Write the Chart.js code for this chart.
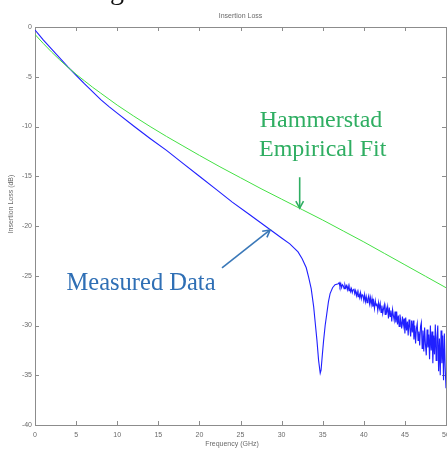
<!DOCTYPE html>
<html><head><meta charset="utf-8">
<script src="https://cdn.jsdelivr.net/npm/chart.js@4/dist/chart.umd.min.js"></script>
<style>html,body{margin:0;padding:0;background:#fff;overflow:hidden}#wrap{width:447px;height:451px}</style>
</head><body><div id="wrap"><canvas id="c" width="447" height="451"></canvas></div>
<script>
const xTicks = [0,5,10,15,20,25,30,35,40,45,50];
const yTicks = [0,-5,-10,-15,-20,-25,-30,-35,-40];

const fitFreq = [0,1,2,3,4,5,6,7,8,9,10,12,14,16,18,20,22.5,25,27.5,30,32.5,35,37.5,40,42.5,45,47.5,50];
const fitLoss = [-0.75,-1.65,-2.5,-3.3,-4.05,-4.75,-5.4,-6.05,-6.65,-7.25,-7.85,-8.95,-10.0,-11.0,-11.95,-12.9,-14.05,-15.15,-16.25,-17.3,-18.35,-19.4,-20.5,-21.6,-22.75,-23.9,-25.05,-26.2];

const measFreqSmooth = [0,0.5,1,2,3,4,5,6,7,8,9,10,12,14,16,18,20,22,24,26,28,29,30,31,32,32.5,33,33.3,33.6,33.9,34.1,34.3,34.5,34.7,34.8,34.95,35.1,35.3,35.5,35.7,35.9,36.2,36.5,36.9];
const measLossSmooth = [-0.3,-0.8,-1.3,-2.2,-3.1,-4.0,-4.85,-5.7,-6.5,-7.3,-8.0,-8.65,-9.95,-11.2,-12.4,-13.7,-15.0,-16.3,-17.6,-18.8,-20.0,-20.6,-21.2,-21.8,-22.6,-23.3,-24.2,-25.2,-26.3,-28.1,-29.8,-31.5,-33.5,-34.8,-34.5,-33.0,-31.6,-30.0,-28.8,-27.6,-26.8,-26.2,-25.9,-25.8];

// noisy tail, 37.0 .. 50.0 GHz in 0.1 GHz steps
const measFreqNoisy = [37.0,37.1,37.2,37.3,37.4,37.5,37.6,37.7,37.8,37.9,
38.0,38.1,38.2,38.3,38.4,38.5,38.6,38.7,38.8,38.9,
39.0,39.1,39.2,39.3,39.4,39.5,39.6,39.7,39.8,39.9,
40.0,40.1,40.2,40.3,40.4,40.5,40.6,40.7,40.8,40.9,
41.0,41.1,41.2,41.3,41.4,41.5,41.6,41.7,41.8,41.9,
42.0,42.1,42.2,42.3,42.4,42.5,42.6,42.7,42.8,42.9,
43.0,43.1,43.2,43.3,43.4,43.5,43.6,43.7,43.8,43.9,
44.0,44.1,44.2,44.3,44.4,44.5,44.6,44.7,44.8,44.9,
45.0,45.1,45.2,45.3,45.4,45.5,45.6,45.7,45.8,45.9,
46.0,46.1,46.2,46.3,46.4,46.5,46.6,46.7,46.8,46.9,
47.0,47.1,47.2,47.3,47.4,47.5,47.6,47.7,47.8,47.9,
48.0,48.1,48.2,48.3,48.4,48.5,48.6,48.7,48.8,48.9,
49.0,49.1,49.2,49.3,49.4,49.5,49.6,49.7,49.8,49.9,50.0];
const measLossNoisy = [-25.7,-26.1,-25.8,-26.2,-25.9,-26.0,-26.3,-25.9,-26.2,-26.0,
-26.4,-26.0,-26.5,-26.2,-26.6,-26.3,-26.7,-26.4,-26.3,-26.8,
-26.5,-27.0,-26.6,-27.1,-26.8,-27.2,-26.7,-27.3,-26.9,-27.0,
-27.5,-26.9,-27.6,-27.1,-27.7,-27.3,-27.0,-27.8,-27.2,-27.9,
-27.3,-28.1,-27.6,-28.3,-27.5,-28.0,-27.8,-28.5,-27.7,-28.3,
-27.8,-28.7,-28.0,-28.8,-28.3,-27.9,-28.9,-28.2,-28.6,-28.1,
-29.3,-28.2,-29.1,-28.5,-29.6,-28.4,-29.0,-29.5,-28.6,-29.7,
-28.6,-29.9,-29.0,-30.1,-28.9,-29.6,-30.3,-29.1,-30.0,-29.3,
-30.8,-29.2,-30.5,-29.6,-31.0,-29.4,-30.2,-31.1,-29.5,-30.7,
-29.5,-31.4,-30.0,-31.8,-30.3,-29.8,-31.5,-30.6,-32.0,-30.1,
-29.7,-32.3,-30.5,-32.6,-30.2,-31.9,-33.0,-30.4,-32.2,-30.9,
-33.4,-30.0,-32.5,-30.6,-33.8,-31.0,-32.9,-29.9,-33.5,-31.2,
-30.0,-34.6,-31.3,-35.0,-30.5,-33.8,-31.0,-35.5,-30.8,-34.2,-36.3];

const measFreq = measFreqSmooth.concat(measFreqNoisy);
const measLoss = measLossSmooth.concat(measLossNoisy);

const toPts = (xs, ys) => xs.map((v, i) => ({x: v, y: ys[i]}));

const axisGray = '#8c8c8c';
const labelGray = '#6a6a6a';

const framePlugin = {
  id: 'frame',
  beforeDatasetsDraw(chart) {
    const {ctx, chartArea: a, scales: {x, y}} = chart;
    ctx.save();
    ctx.strokeStyle = axisGray; ctx.lineWidth = 1;
    ctx.strokeRect(Math.round(a.left) + 0.5, Math.round(a.top) + 0.5, Math.round(a.right - a.left), Math.round(a.bottom - a.top));
    ctx.beginPath();
    xTicks.forEach(v => {
      const px = Math.round(x.getPixelForValue(v)) + 0.5;
      ctx.moveTo(px, a.top); ctx.lineTo(px, a.top + 4);
      ctx.moveTo(px, a.bottom); ctx.lineTo(px, a.bottom - 4);
    });
    yTicks.forEach(v => {
      const py = Math.round(y.getPixelForValue(v)) + 0.5;
      ctx.moveTo(a.left, py); ctx.lineTo(a.left + 4, py);
      ctx.moveTo(a.right, py); ctx.lineTo(a.right - 4, py);
    });
    ctx.stroke();
    ctx.restore();
  },
  afterDraw(chart) {
    const {ctx, chartArea: a, scales: {x, y}} = chart;
    ctx.save();
    ctx.fillStyle = labelGray;
    ctx.font = '7px "Liberation Sans", sans-serif';
    ctx.textAlign = 'center'; ctx.textBaseline = 'middle';
    ctx.fillText('Insertion Loss', (a.left + a.right) / 2, 16);
    ctx.fillText('Frequency (GHz)', 232, 444);
    ctx.save();
    ctx.translate(11, 204); ctx.rotate(-Math.PI / 2);
    ctx.fillText('Insertion Loss (dB)', 0, 0);
    ctx.restore();
    ctx.fillStyle = '#111';
    ctx.font = '28px "Liberation Serif", serif';
    ctx.textAlign = 'left'; ctx.textBaseline = 'alphabetic';
    ctx.fillText('g', 110, -1);
    const X = v => x.getPixelForValue(v), Y = v => y.getPixelForValue(v);
    ctx.font = '24px "Liberation Serif", serif';
    ctx.textAlign = 'center';
    ctx.fillStyle = '#2fae62';
    ctx.fillText('Hammerstad', X(34.8), Y(-10.0));
    ctx.fillText('Empirical Fit', X(35.0), Y(-12.95));
    const arrow = (x0, y0, x1, y1, col) => {
      ctx.strokeStyle = col; ctx.lineWidth = 1.6;
      ctx.beginPath(); ctx.moveTo(x0, y0); ctx.lineTo(x1, y1); ctx.stroke();
      const ang = Math.atan2(y1 - y0, x1 - x0), L = 8, w = 0.5;
      ctx.beginPath();
      ctx.moveTo(x1 - L * Math.cos(ang - w), y1 - L * Math.sin(ang - w));
      ctx.lineTo(x1, y1);
      ctx.lineTo(x1 - L * Math.cos(ang + w), y1 - L * Math.sin(ang + w));
      ctx.stroke();
    };
    arrow(X(32.2), Y(-15.1), X(32.2), Y(-18.2), '#2fae62');
    ctx.fillStyle = '#2f6fb5';
    ctx.font = '24.5px "Liberation Serif", serif';
    ctx.fillText('Measured Data', X(12.9), Y(-26.4));
    arrow(X(22.75), Y(-24.2), X(28.6), Y(-20.4), '#3a78b8');
    ctx.restore();
  }
};

new Chart(document.getElementById('c'), {
  type: 'line',
  data: {
    datasets: [
      {label: 'Hammerstad Empirical Fit', data: toPts(fitFreq, fitLoss), borderColor: '#44e044', borderWidth: 1, pointRadius: 0, tension: 0, fill: false},
      {label: 'Measured Data', data: toPts(measFreq, measLoss), borderColor: '#2020ff', borderWidth: 1.1, pointRadius: 0, tension: 0, fill: false}
    ]
  },
  options: {
    responsive: false, animation: false, devicePixelRatio: 1,
    layout: {padding: {top: 27, right: 1, left: 0, bottom: 0}},
    plugins: {legend: {display: false}, tooltip: {enabled: false}, title: {display: false}},
    scales: {
      x: {
        type: 'linear', min: 0, max: 50,
        afterBuildTicks: s => { s.ticks = xTicks.map(v => ({value: v})); },
        afterFit: s => { s.height = 26; s.paddingLeft = 0; s.paddingRight = 0; },
        grid: {display: false, drawTicks: false},
        border: {display: false},
        ticks: {color: labelGray, font: {size: 7, family: 'Liberation Sans'}, padding: 6, maxRotation: 0, autoSkip: false}
      },
      y: {
        type: 'linear', min: -40, max: 0,
        afterBuildTicks: s => { s.ticks = yTicks.map(v => ({value: v})); },
        afterFit: s => { s.width = 35; s.paddingTop = 0; s.paddingBottom = 0; },
        grid: {display: false, drawTicks: false},
        border: {display: false},
        ticks: {color: labelGray, font: {size: 7, family: 'Liberation Sans'}, padding: 3, autoSkip: false}
      }
    }
  },
  plugins: [framePlugin]
});
</script></body></html>
